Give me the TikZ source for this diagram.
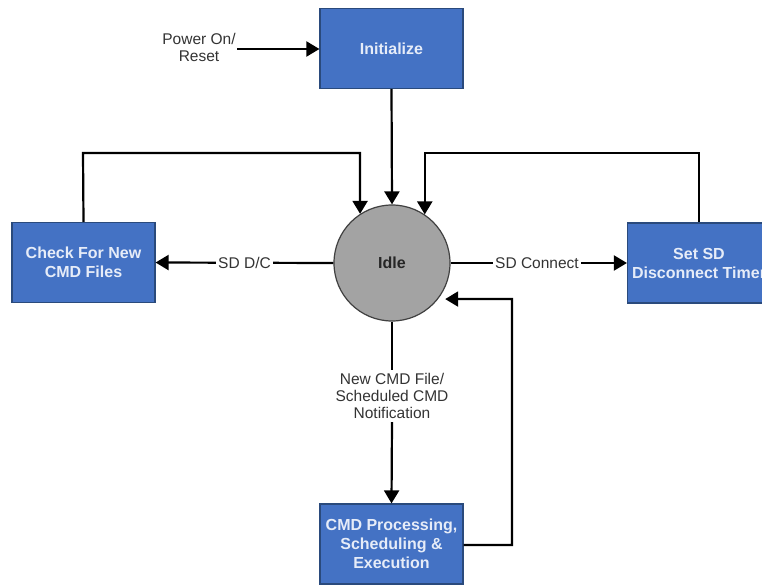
\documentclass[tikz,border=0pt]{standalone}
\usepackage{fontspec}
\setmainfont{Liberation Sans}
\usetikzlibrary{arrows.meta,calc}
\definecolor{boxfill}{HTML}{4472C4}
\definecolor{boxline}{HTML}{2A4A7C}
\definecolor{boxtext}{HTML}{E6ECF8}
\definecolor{idlefill}{HTML}{A3A3A3}
\definecolor{idleline}{HTML}{404040}
\definecolor{labeltext}{HTML}{333333}
\tikzset{
  statebox/.style={draw=boxline, line width=1.2pt, fill=boxfill, text=boxtext,
    minimum width=143pt, minimum height=80pt, align=center, inner sep=0pt,
    font=\fontsize{16}{19}\selectfont\bfseries},
  idlestate/.style={circle, draw=idleline, line width=1.2pt, fill=idlefill,
    minimum size=116pt, inner sep=0pt, font=\fontsize{16}{19}\selectfont\bfseries, text=black!85},
  flow/.style={line width=2.2pt, -{Triangle[length=13pt,width=15pt]}},
  plainline/.style={line width=2.2pt},
  tag/.style={text=labeltext, align=center, font=\fontsize{15.5}{17}\selectfont, inner sep=1pt},
  tagonline/.style={tag, fill=white, inner sep=2pt}
}
\begin{document}
\begin{tikzpicture}[x=1pt,y=-1pt]
  \useasboundingbox (0,0) rectangle (762,586);
  \clip (0,0) rectangle (762,586);

  % states
  \node[statebox] (init) at (391.5,48.5) {Initialize};
  \node[idlestate] (idle) at (392,263) {Idle};
  \node[statebox] (check) at (83.5,262.5) {Check For New\\CMD Files};
  \node[statebox] (setsd) at (699,263) {Set SD\\Disconnect Timer};
  \node[statebox] (cmd) at (391.5,544) {CMD Processing,\\Scheduling \&\\Execution};

  % power-on entry
  \node[tag] (power) at (199,47.5) {Power On/\\Reset};
  \coordinate (powerstart) at (237,49);
  \draw[flow] (powerstart) -- (init.west |- powerstart);

  % initialize to idle
  \draw[flow] (init.south) -- (idle.north);

  % idle to side states
  \draw[flow] (idle.west) -- node[tagonline, pos=0.5] (sddc) {SD D/C} (check.east);
  \draw[flow] (idle.east) -- node[tagonline, pos=0.49] (sdcon) {SD Connect} (setsd.east -| setsd.west);

  % return loops into idle
  \coordinate (checktop) at (83,153);
  \coordinate (setsdtop) at (699,153);
  \draw[flow] (check.north) -- (checktop) -| (idle.123.5);
  \draw[flow] (setsd.north) -- (setsdtop) -| (idle.56.5);

  % command processing path
  \draw[plainline] (idle.south) -- (392,370);
  \node[tag] (newcmd) at (392,396) {New CMD File/\\Scheduled CMD\\Notification};
  \draw[flow] (392,422) -- (cmd.north);
  \coordinate (cmdturn) at (512,545);
  \coordinate (cmdtop) at (512,299);
  \draw[flow, shorten >=7pt] (cmd.east |- cmdturn) -- (cmdturn) -- (cmdtop) -- (idle.-38);
\end{tikzpicture}
\end{document}
